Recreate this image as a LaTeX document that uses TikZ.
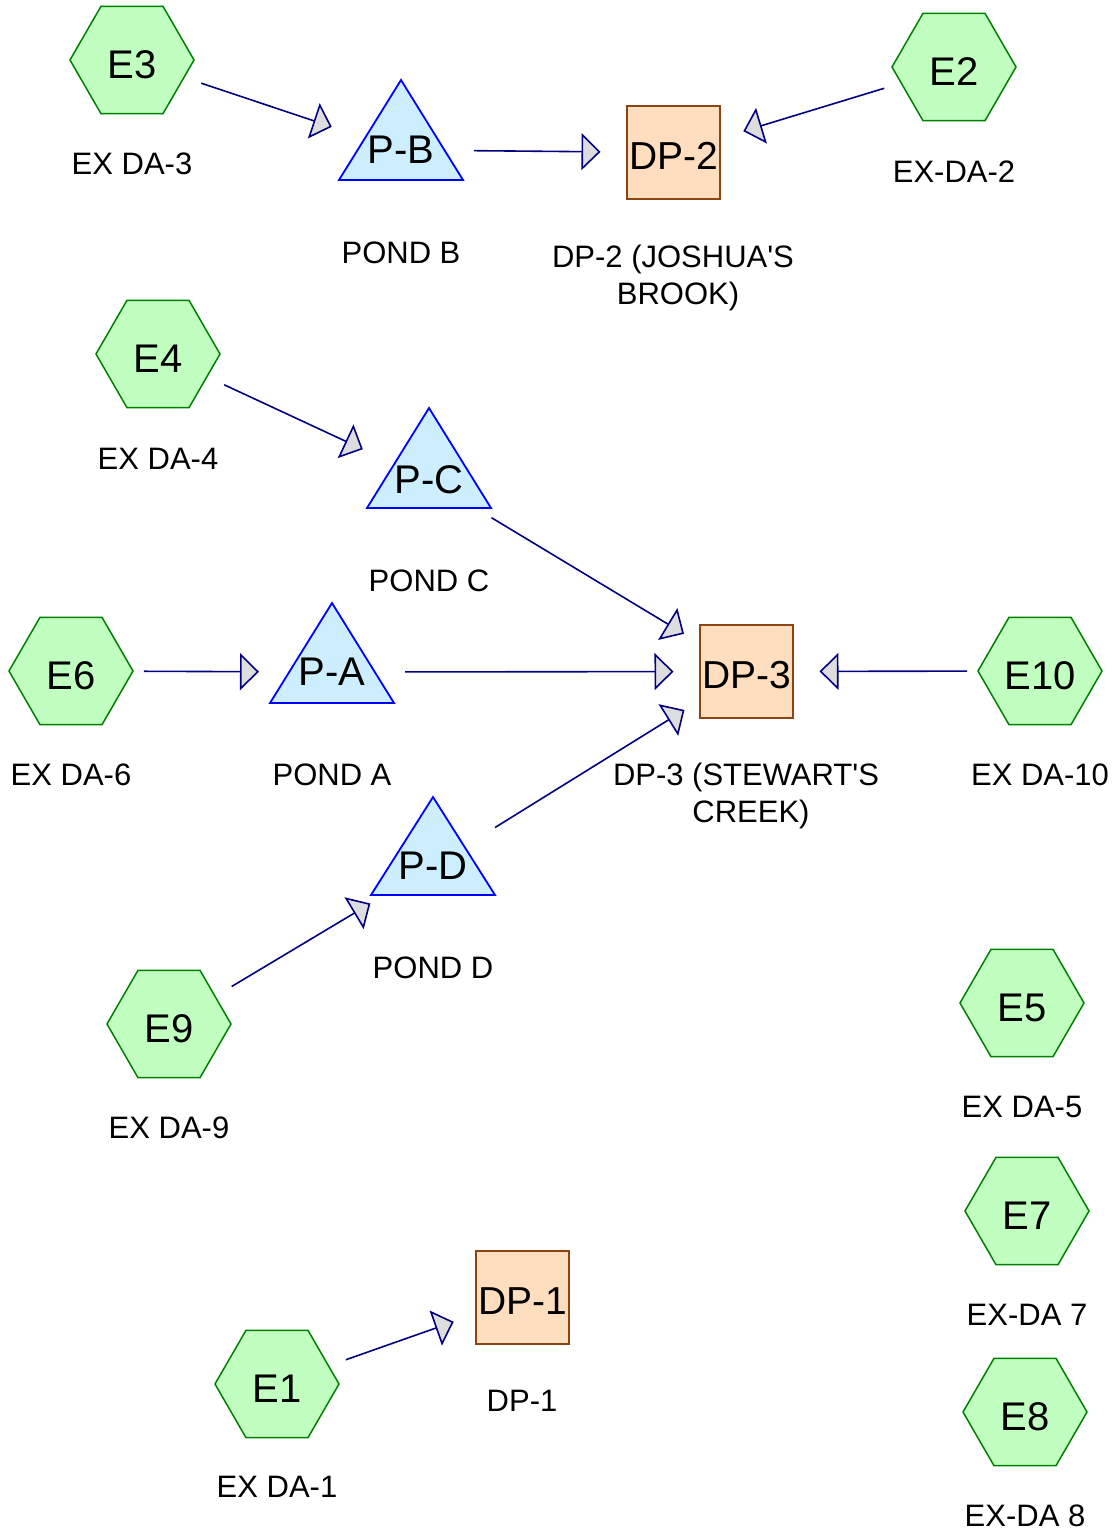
\documentclass[tikz,border=0pt]{standalone}
\usepackage{fontspec}
\setmainfont{Liberation Sans}
\usetikzlibrary{arrows.meta,shapes.geometric}
\definecolor{hexfill}{HTML}{C0FFC0}
\definecolor{hexdraw}{HTML}{008000}
\definecolor{pondfill}{HTML}{CCEEFF}
\definecolor{ponddraw}{HTML}{0000FF}
\definecolor{dpfill}{HTML}{FFDEBF}
\definecolor{dpdraw}{HTML}{8B4513}
\definecolor{edgecol}{HTML}{000080}
\definecolor{tipfill}{HTML}{DDDDDD}
\begin{document}
\begin{tikzpicture}[x=1pt,y=-1pt,
 hexa/.style={regular polygon,regular polygon sides=6,minimum size=124pt,inner sep=0pt,fill=hexfill,draw=hexdraw,line width=1.5pt,font=\fontsize{40}{48}\selectfont,text height=36pt,text depth=0pt},
 dpbox/.style={rectangle,minimum size=93pt,inner sep=0pt,fill=dpfill,draw=dpdraw,line width=2pt,font=\fontsize{39}{48}\selectfont,text height=33pt,text depth=0pt},
 pondtxt/.style={inner sep=0pt,font=\fontsize{40}{48}\selectfont},
 pondshape/.style={fill=pondfill,draw=ponddraw,line width=1.8pt,line join=miter},
 captxt/.style={inner sep=0pt,anchor=base,align=center,font=\fontsize{31}{37}\selectfont},
 flow/.style={draw=edgecol,line width=1.6pt,shorten <=73pt,shorten >=73pt,-{Triangle[length=19pt,width=37pt,fill=tipfill]}}
]
\path[use as bounding box,fill=white] (0,0) rectangle (1111,1531);

% hexagons
\node[hexa] (e3) at (132,60) {E3};
\node[hexa] (e2) at (954,67) {E2};
\node[hexa] (e4) at (158,354) {E4};
\node[hexa] (e6) at (71,671) {E6};
\node[hexa] (e10) at (1040,671) {E10};
\node[hexa] (e9) at (169,1024) {E9};
\node[hexa] (e5) at (1022,1003) {E5};
\node[hexa] (e7) at (1027,1211) {E7};
\node[hexa] (e8) at (1025,1412) {E8};
\node[hexa] (e1) at (277,1384) {E1};

% ponds
\path[pondshape] (401,80) -- (463,180) -- (339,180) -- cycle;
\node[pondtxt] (pb) at (401,150) {P-B};
\path[pondshape] (429,408) -- (491,508) -- (367,508) -- cycle;
\node[pondtxt] (pc) at (429,480) {P-C};
\path[pondshape] (332,603) -- (394,703) -- (270,703) -- cycle;
\node[pondtxt] (pa) at (332,672) {P-A};
\path[pondshape] (433,797) -- (495,895) -- (371,895) -- cycle;
\node[pondtxt] (pd) at (433,866) {P-D};

% design points
\node[dpbox] (dp2) at (673.5,152.5) {DP-2};
\node[dpbox] (dp3) at (746.5,671.5) {DP-3};
\node[dpbox] (dp1) at (522.5,1297.5) {DP-1};

% captions
\node[captxt] (c3) at (132,174) {EX DA-3};
\node[captxt] (c2) at (954,182) {EX-DA-2};
\node[captxt] (cpb) at (401,263) {POND B};
\node[captxt] (cdp2) at (673,304) {DP-2 (JOSHUA\textquotesingle S\\\hspace*{10pt}BROOK)};
\node[captxt] (c4) at (158,469) {EX DA-4};
\node[captxt] (cpc) at (429,591) {POND C};
\node[captxt] (c6) at (71,785) {EX DA-6};
\node[captxt] (cpa) at (332,785) {POND A};
\node[captxt] (cdp3) at (746,822) {DP-3 (STEWART\textquotesingle S\\\hspace*{10pt}CREEK)};
\node[captxt] (c10) at (1040,785) {EX DA-10};
\node[captxt] (cpd) at (433,978) {POND D};
\node[captxt] (c9) at (169,1138) {EX DA-9};
\node[captxt] (c5) at (1022,1117) {EX DA-5};
\node[captxt] (c7) at (1027,1325) {EX-DA 7};
\node[captxt] (cdp1) at (522,1411) {DP-1};
\node[captxt] (c1) at (277,1497) {EX DA-1};
\node[captxt] (c8) at (1025,1526) {EX-DA 8};

% connectors
\draw[flow] (e3.center) -- (pb.center);
\draw[flow] (pb.center) -- (dp2.center);
\draw[flow] (e2.center) -- (dp2.center);
\draw[flow] (e4.center) -- (pc.center);
\draw[flow] (pc.center) -- (dp3.center);
\draw[flow] (e6.center) -- (pa.center);
\draw[flow] (pa.center) -- (dp3.center);
\draw[flow] (e10.center) -- (dp3.center);
\draw[flow] (pd.center) -- (dp3.center);
\draw[flow] (e9.center) -- (pd.center);
\draw[flow] (e1.center) -- (dp1.center);
\end{tikzpicture}
\end{document}
